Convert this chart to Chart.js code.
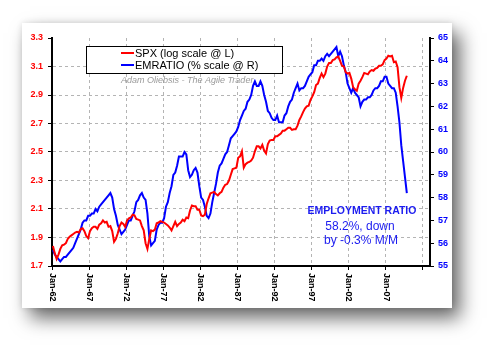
<!DOCTYPE html>
<html>
<head>
<meta charset="utf-8">
<script src="https://cdn.jsdelivr.net/npm/chart.js@4/dist/chart.umd.min.js"></script>
<style>
  html, body { margin: 0; padding: 0; background: #fff; }
  body { width: 495px; height: 352px; position: relative; overflow: hidden; }
  .paper {
    position: absolute; left: 22px; top: 23px; width: 430px; height: 285px;
    background: #fff;
    box-shadow: 8px 10px 18px rgba(0,0,0,0.6), 0 0 6px rgba(0,0,0,0.12);
  }
</style>
</head>
<body>
<div class="paper"><canvas id="empChart" width="430" height="285"></canvas></div>
<script>
// quarterly series, 1962 Q1 .. 2009 Q4
const firstYear = 1962;
const lastYear = 2009;

// log10 of SPX (left axis)
const spxLog = [
  1.84, 1.79, 1.75, 1.78,   1.82, 1.845, 1.85, 1.86,   1.89, 1.905, 1.915, 1.925,
  1.935, 1.94, 1.935, 1.96,  1.965, 1.945, 1.91, 1.895,  1.945, 1.965, 1.975, 1.975,
  1.96, 1.99, 2.0, 2.02,    2.005, 2.01, 1.975, 1.98,   1.945, 1.87, 1.89, 1.93,
  1.98, 2.005, 1.995, 1.975, 2.02, 2.035, 2.04, 2.06,   2.055, 2.03, 2.025, 2.02,
  1.98, 1.95, 1.86, 1.82,   1.89, 1.95, 1.945, 1.955,  2.0, 2.005, 2.015, 2.01,
  2.005, 1.995, 1.985, 1.97, 1.95, 1.98, 2.01, 1.98,    1.995, 2.005, 2.025, 2.015,
  2.04, 2.035, 2.09, 2.125,  2.12, 2.12, 2.095, 2.095,  2.055, 2.05, 2.06, 2.135,
  2.175, 2.21, 2.215, 2.22,  2.205, 2.195, 2.21, 2.22,  2.25, 2.27, 2.275, 2.30,
  2.34, 2.38, 2.385, 2.39,   2.46, 2.47, 2.505, 2.39,   2.415, 2.425, 2.43, 2.44,
  2.46, 2.505, 2.54, 2.54,   2.525, 2.55, 2.51, 2.49,   2.555, 2.58, 2.585, 2.585,
  2.61, 2.61, 2.62, 2.63,    2.65, 2.65, 2.66, 2.67,    2.67, 2.655, 2.66, 2.66,
  2.685, 2.725, 2.75, 2.78,  2.805, 2.82, 2.825, 2.865, 2.89, 2.92, 2.97, 2.98,
  3.02, 3.05, 3.025, 3.05,   3.10, 3.125, 3.125, 3.145, 3.15, 3.165, 3.17, 3.14,
  3.105, 3.10, 3.06, 3.05,   3.055, 3.015, 2.955, 2.94, 2.93, 2.98, 3.0, 3.025,
  3.055, 3.05, 3.045, 3.065, 3.075, 3.07, 3.085, 3.09,  3.105, 3.105, 3.115, 3.145,
  3.155, 3.175, 3.17, 3.175, 3.13, 3.135, 3.095, 2.955, 2.88, 2.95, 3.0, 3.035
];

// employment-population ratio, % (right axis)
const emRatio = [
  55.7, 55.5, 55.4, 55.3,  55.2, 55.3, 55.4, 55.4,  55.5, 55.6, 55.7, 55.8,
  56.0, 56.2, 56.4, 56.6,  56.9, 57.0, 57.0, 57.2,  57.2, 57.3, 57.3, 57.5,
  57.4, 57.6, 57.7, 57.8,  57.9, 58.0, 58.1, 58.2,  58.0, 57.5, 57.2, 56.8,
  56.6, 56.4, 56.5, 56.6,  56.8, 57.0, 57.0, 57.2,  57.4, 57.8, 57.9, 58.1,
  58.2, 58.0, 57.9, 57.3,  56.3, 55.9, 56.0, 56.1,  56.6, 56.8, 56.9, 56.9,
  57.1, 57.6, 57.8, 58.2,  58.5, 59.0, 59.1, 59.4,  59.8, 59.8, 59.8, 60.0,
  59.9, 59.2, 58.9, 59.0,  59.2, 59.3, 59.1, 58.5,  58.0, 57.9, 57.6, 57.2,
  57.1, 57.3, 57.8, 58.2,  58.6, 59.1, 59.4, 59.5,  59.7, 59.9, 60.0, 60.3,
  60.6, 60.7, 60.8, 60.9,  61.1, 61.4, 61.6, 61.8,  61.9, 62.2, 62.3, 62.5,
  62.9, 63.1, 62.9, 62.9,  63.1, 62.9, 62.5, 62.2,  61.8, 61.7, 61.5, 61.4,
  61.4, 61.6, 61.3, 61.3,  61.3, 61.6, 61.7, 62.0,  62.2, 62.3, 62.6, 62.8,
  63.0, 62.7, 62.8, 62.8,  62.9, 63.1, 63.3, 63.4,  63.5, 63.8, 63.8, 64.0,
  64.0, 64.1, 64.0, 64.2,  64.3, 64.2, 64.3, 64.4,  64.5, 64.6, 64.2, 64.4,
  64.2, 63.8, 63.5, 63.0,  62.8, 62.6, 62.8, 62.6,  62.5, 62.4, 62.0, 62.2,
  62.3, 62.3, 62.4, 62.4,  62.5, 62.7, 62.8, 62.8,  62.9, 63.1, 63.1, 63.3,
  63.3, 63.0, 62.9, 62.8,  62.8, 62.6, 62.0, 61.3,  60.3, 59.6, 58.9, 58.2
];

const xTicks = [1962, 1967, 1972, 1977, 1982, 1987, 1992, 1997, 2002, 2007, 2012];
const xLabels = ['Jan-62', 'Jan-67', 'Jan-72', 'Jan-77', 'Jan-82', 'Jan-87', 'Jan-92', 'Jan-97', 'Jan-02', 'Jan-07', ''];
const leftTicks = [1.7, 1.9, 2.1, 2.3, 2.5, 2.7, 2.9, 3.1, 3.3];
const rightTicks = [55, 56, 57, 58, 59, 60, 61, 62, 63, 64, 65];

const noteLines = ['EMPLOYMENT RATIO', '58.2%, down', 'by -0.3% M/M'];
const credit = 'Adam Oliebsis - The Agile Trader';

const quarters = [];
for (let y = firstYear; y <= lastYear; y++) {
    for (let q = 0; q < 4; q++) quarters.push(y + q / 4 + 0.125);
}

const FONT = 'Liberation Sans, Arial, sans-serif';

// x labels read downward, the legend box, credit line and the note
const extras = {
    id: 'extras',
    afterDraw(chart) {
        const ctx = chart.ctx;
        const xs = chart.scales.x;
        const bottom = chart.chartArea.bottom;
        ctx.save();
        ctx.fillStyle = '#000';
        ctx.font = 'bold 9px ' + FONT;
        ctx.textAlign = 'left';
        ctx.textBaseline = 'middle';
        xTicks.forEach((v, i) => {
            if (!xLabels[i]) return;
            ctx.save();
            ctx.translate(Math.round(xs.getPixelForValue(v)), bottom + 7);
            ctx.rotate(Math.PI / 2);
            ctx.fillText(xLabels[i], 0, 0);
            ctx.restore();
        });

        // legend
        ctx.fillStyle = '#fff';
        ctx.fillRect(64, 23, 196, 27);
        ctx.strokeStyle = '#000';
        ctx.lineWidth = 1;
        ctx.strokeRect(64.5, 23.5, 196, 27);
        ctx.font = '11px ' + FONT;
        chart.data.datasets.forEach((ds, i) => {
            const y = 30 + i * 12;
            ctx.strokeStyle = ds.borderColor;
            ctx.lineWidth = 2;
            ctx.beginPath();
            ctx.moveTo(99, y);
            ctx.lineTo(112, y);
            ctx.stroke();
            ctx.fillStyle = '#000';
            ctx.fillText(ds.label, 113, y + 0.5);
        });

        ctx.font = 'italic 9px ' + FONT;
        ctx.fillStyle = '#9a9a9a';
        ctx.fillText(credit, 99, 57);

        ctx.textAlign = 'center';
        ctx.fillStyle = '#1c1cf0';
        ctx.font = 'bold 10.5px ' + FONT;
        ctx.fillText(noteLines[0], 340, 188);
        ctx.font = '12px ' + FONT;
        ctx.fillText(noteLines[1], 338, 204);
        ctx.fillText(noteLines[2], 339, 218);
        ctx.restore();
    }
};

const ctx = document.getElementById('empChart').getContext('2d');
new Chart(ctx, {
    type: 'line',
    data: {
        datasets: [{
            label: 'SPX (log scale @ L)',
            data: spxLog.map((v, i) => ({ x: quarters[i], y: v })),
            borderColor: '#ff0000',
            borderWidth: 2,
            pointRadius: 0,
            yAxisID: 'y'
        }, {
            label: 'EMRATIO (% scale @ R)',
            data: emRatio.map((v, i) => ({ x: quarters[i], y: v })),
            borderColor: '#0000ff',
            borderWidth: 2,
            pointRadius: 0,
            yAxisID: 'y1'
        }]
    },
    options: {
        responsive: false,
        animation: false,
        layout: { padding: { top: 15, left: 0, right: 0, bottom: 0 } },
        plugins: { legend: { display: false }, tooltip: { enabled: false } },
        scales: {
            x: {
                type: 'linear', min: 1962, max: 2013,
                afterBuildTicks: s => { s.ticks = xTicks.map(v => ({ value: v })); },
                afterFit: s => { s.height = 42; },
                ticks: { display: false },
                grid: {
                    color: c => c.tick && c.tick.value === 1962 ? 'rgba(0,0,0,0)' : '#b4b4b4',
                    tickColor: '#000', tickLength: 4
                },
                border: { color: '#000', width: 2, dash: [3, 3] }
            },
            y: {
                position: 'left', min: 1.7, max: 3.3,
                afterBuildTicks: s => { s.ticks = leftTicks.map(v => ({ value: v })); },
                afterFit: s => { s.width = 30; },
                ticks: {
                    color: '#ff0000', font: { family: FONT, size: 9, weight: 'bold' }, padding: 5,
                    callback: v => v.toFixed(1)
                },
                grid: {
                    color: c => c.tick && (c.tick.value === 3.3 || c.tick.value === 1.7) ? 'rgba(0,0,0,0)' : '#b4b4b4',
                    tickColor: '#000', tickLength: 4
                },
                border: { color: '#000', width: 2, dash: [3, 3] }
            },
            y1: {
                position: 'right', min: 55, max: 65,
                afterBuildTicks: s => { s.ticks = rightTicks.map(v => ({ value: v })); },
                afterFit: s => { s.width = 22; },
                ticks: { color: '#0000ff', font: { family: FONT, size: 9, weight: 'bold' }, padding: 4 },
                grid: { drawOnChartArea: false, tickColor: '#000', tickLength: 4 },
                border: { color: '#000', width: 2 }
            }
        }
    },
    plugins: [extras]
});
</script>
</body>
</html>
